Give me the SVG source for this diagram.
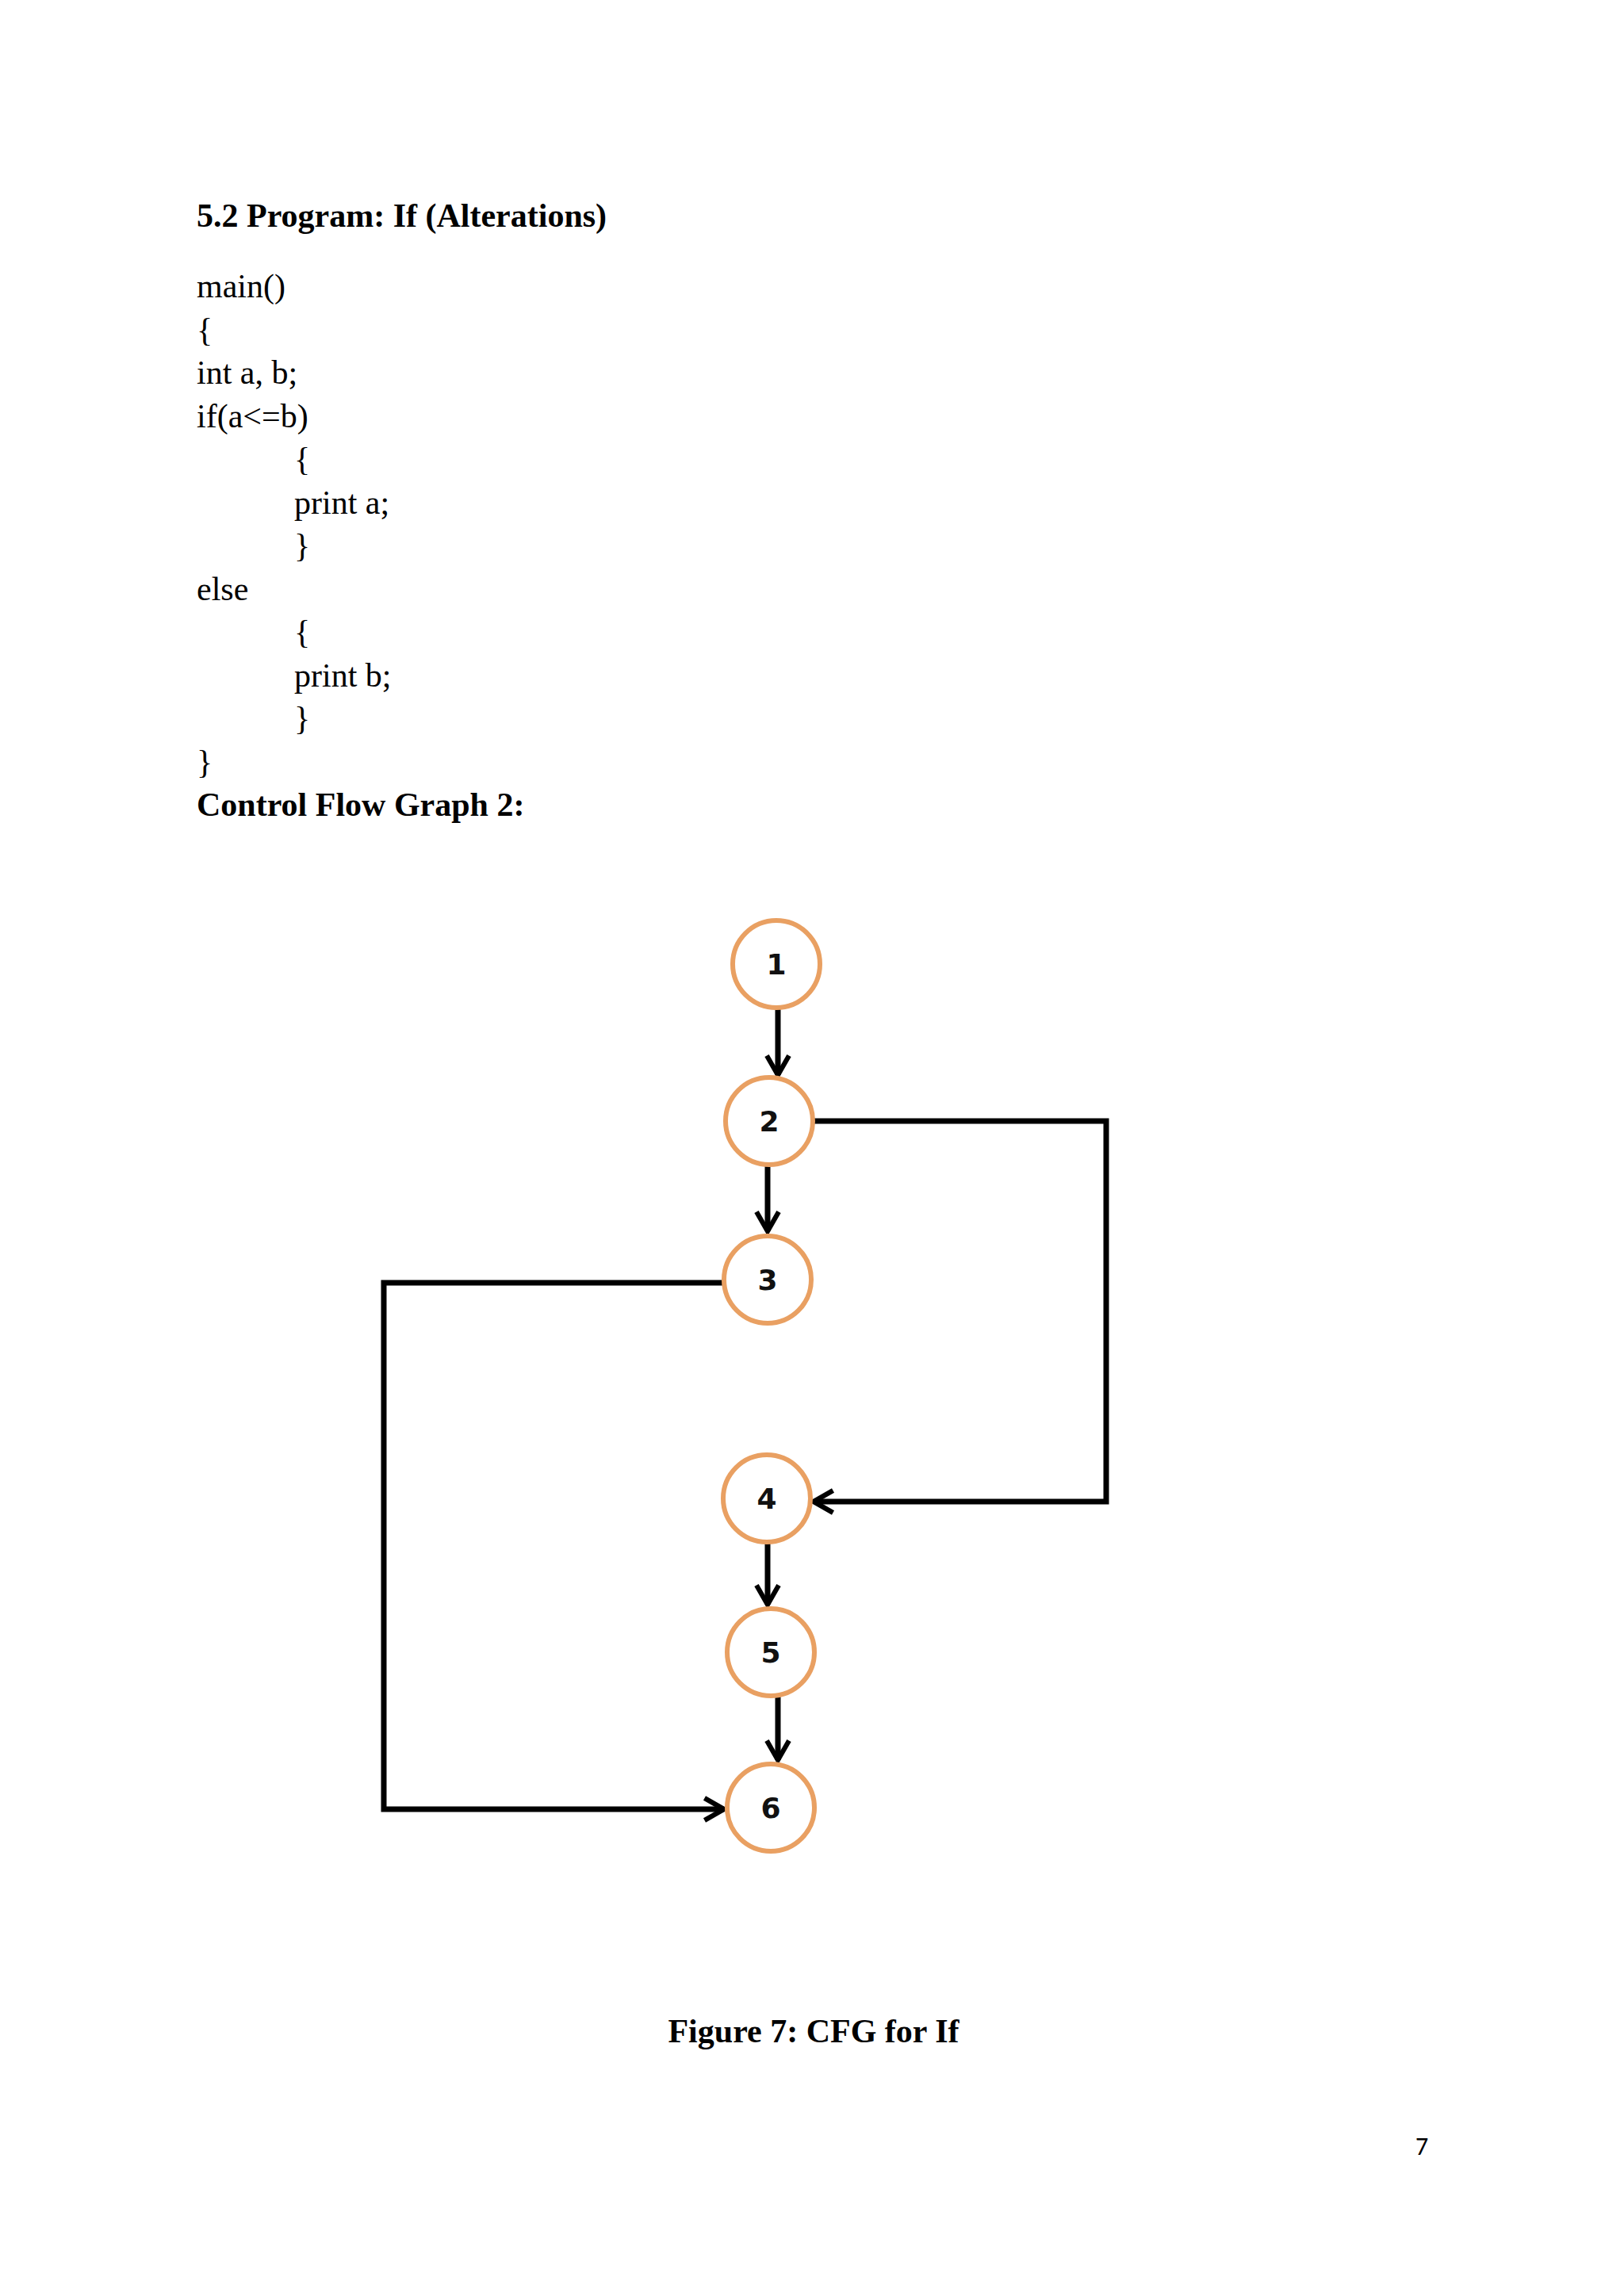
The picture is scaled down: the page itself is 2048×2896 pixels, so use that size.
<svg xmlns="http://www.w3.org/2000/svg" width="2048" height="2896" viewBox="0 0 2048 2896">
<defs>
<style>
.t{font-family:"Liberation Serif",serif;font-size:42px;fill:#000}
.b{font-weight:bold}
.n circle{fill:#fff;stroke:#E9A062;stroke-width:6}
.n text{font-family:"DejaVu Sans","Liberation Sans",sans-serif;font-weight:bold;font-size:36px;text-anchor:middle;fill:#111}
.e{fill:none;stroke:#000;stroke-width:7;marker-end:url(#ah)}
</style>
<marker id="ah" viewBox="0 0 20 20" refX="17" refY="10" markerWidth="5" markerHeight="5" orient="auto" markerUnits="strokeWidth">
<polyline points="3,2 17,10 3,18" fill="none" stroke="#000" stroke-width="3.5"/>
</marker>
</defs>
<rect width="2048" height="2896" fill="#fff"/>
<g id="text">
<text class="t b" x="248" y="286">5.2 Program: If (Alterations)</text>
<text class="t" x="248" y="375">main()</text>
<text class="t" x="248" y="430">{</text>
<text class="t" x="248" y="484">int a, b;</text>
<text class="t" x="248" y="539">if(a&lt;=b)</text>
<text class="t" x="371" y="593">{</text>
<text class="t" x="371" y="648">print a;</text>
<text class="t" x="371" y="702">}</text>
<text class="t" x="248" y="757">else</text>
<text class="t" x="371" y="811">{</text>
<text class="t" x="371" y="866">print b;</text>
<text class="t" x="371" y="920">}</text>
<text class="t" x="248" y="975">}</text>
<text class="t b" x="248" y="1029">Control Flow Graph 2:</text>
<text class="t b" x="1026" y="2576" text-anchor="middle">Figure 7: CFG for If</text>
<text x="1793" y="2718" font-family="Carlito,'Liberation Sans',sans-serif" font-size="32" text-anchor="middle">7</text>
</g>
<g id="connectors">
<path class="e" d="M981,1272 V1356"/>
<path class="e" d="M968,1471 V1553"/>
<path class="e" d="M968,1945 V2024"/>
<path class="e" d="M981,2139 V2220"/>
<path class="e" d="M1026,1414 H1395 V1894 H1026"/>
<path class="e" d="M914,1618 H484 V2282 H913"/>
</g>
<g id="n1" class="n"><circle cx="979" cy="1216" r="55"/><text x="979" y="1229">1</text></g>
<g id="n2" class="n"><circle cx="970" cy="1414" r="55"/><text x="970" y="1427">2</text></g>
<g id="n3" class="n"><circle cx="968" cy="1614" r="55"/><text x="968" y="1627">3</text></g>
<g id="n4" class="n"><circle cx="967" cy="1890" r="55"/><text x="967" y="1903">4</text></g>
<g id="n5" class="n"><circle cx="972" cy="2084" r="55"/><text x="972" y="2097">5</text></g>
<g id="n6" class="n"><circle cx="972" cy="2280" r="55"/><text x="972" y="2293">6</text></g>
</svg>
